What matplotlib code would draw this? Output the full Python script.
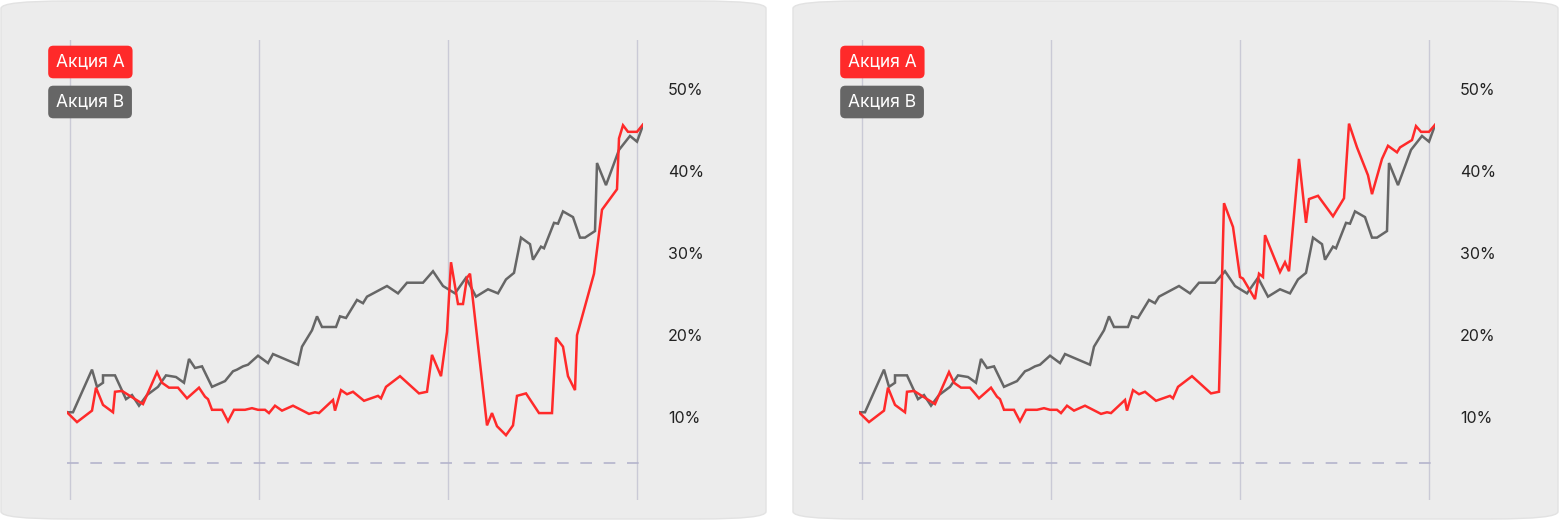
import matplotlib
matplotlib.use("Agg")
import matplotlib.pyplot as plt
from matplotlib.patches import FancyBboxPatch

plt.rcParams['font.family'] = ['Inter', 'DejaVu Sans']

grey_x = [0, 6, 25, 30, 36, 36, 48, 59, 65, 72, 80, 91, 99, 109, 117, 122, 128, 135, 145, 158, 166, 170, 176, 181, 191,
          201, 206, 231, 235, 245, 250, 255, 269, 273, 279, 290, 296, 300, 320, 331, 340, 356, 366, 376, 388, 399, 409,
          421, 431, 439, 447, 454, 463, 466, 474, 477, 487, 491, 496, 506, 513, 518, 528, 530, 539, 552, 563, 570, 576]
grey_y = [10.7, 10.7, 15.9, 13.8, 14.3, 15.2, 15.2, 12.3, 12.8, 11.5, 12.8, 13.8, 15.2, 15.0, 14.3, 17.2, 16.1, 16.3,
          13.8, 14.5, 15.7, 15.9, 16.3, 16.5, 17.6, 16.7, 17.8, 16.5, 18.7, 20.7, 22.4, 21.1, 21.1, 22.4, 22.2, 24.4,
          24.0, 24.8, 26.1, 25.2, 26.5, 26.5, 27.9, 26.1, 25.2, 27.1, 24.8, 25.7, 25.2, 26.9, 27.7, 32.0, 31.2, 29.3,
          30.9, 30.7, 33.8, 33.7, 35.2, 34.5, 32.0, 32.0, 32.8, 41.1, 38.4, 42.7, 44.4, 43.7, 45.7]

red_common_x = [0, 10, 25, 29, 36, 46, 48, 55, 76, 90, 95, 102, 111, 120, 132, 138, 141, 145, 155, 161, 167, 178, 185,
                191, 198, 202, 208, 215, 226, 242, 248, 252, 266, 268, 274, 280, 286, 297, 311, 314, 319, 333, 352, 360]
red_common_y = [10.7, 9.5, 10.9, 13.7, 11.6, 10.7, 13.2, 13.3, 11.7, 15.6, 14.3, 13.7, 13.7, 12.4, 13.7, 12.6, 12.3,
                11.0, 11.0, 9.6, 11.0, 11.0, 11.2, 11.0, 11.0, 10.6, 11.5, 10.9, 11.5, 10.5, 10.7, 10.6, 12.2, 10.9,
                13.4, 12.9, 13.2, 12.1, 12.7, 12.4, 13.8, 15.1, 13.0, 13.2]

red_tail1_x = [365, 374, 380, 384, 391, 396, 400, 403, 420, 425, 430, 439, 446, 450, 459, 472, 485, 489, 496, 501, 508,
               510, 527, 535, 550, 552, 556, 561, 570, 576]
red_tail1_y = [17.7, 15.1, 20.5, 29.0, 23.9, 23.9, 27.1, 27.6, 9.1, 10.6, 9.0, 7.9, 9.1, 12.7, 13.0, 10.6, 10.6, 19.8,
               18.7, 15.1, 13.4, 20.1, 27.6, 35.4, 37.9, 44.1, 45.7, 44.9, 44.9, 45.8]

red_tail2_x = [365, 374, 381, 384, 396, 400, 404, 406, 421, 426, 430, 440, 447, 450, 459, 474, 485, 490, 498, 509, 513,
               523, 529, 538, 541, 553, 557, 562, 570, 577]
red_tail2_y = [36.2, 33.3, 27.2, 27.0, 24.5, 27.6, 27.2, 32.3, 27.8, 29.0, 27.9, 41.6, 33.8, 36.7, 37.1, 34.6, 36.8,
               45.9, 43.0, 39.6, 37.3, 41.6, 43.2, 42.4, 43.0, 43.9, 45.6, 44.9, 44.9, 45.9]

y_ticks = [10, 20, 30, 40, 50]
y_labels = ["10%", "20%", "30%", "40%", "50%"]
v_lines = [3, 192, 381, 570]
baseline = 4.5
legend_labels = ["Акция A", "Акция B"]

RED = "#ff2a2a"
GREY = "#666666"

W, H = 1560, 520
fig = plt.figure(figsize=(15.6, 5.2), dpi=100)
fig.patch.set_facecolor("white")

tails = [(red_tail1_x, red_tail1_y), (red_tail2_x, red_tail2_y)]
for i, off in enumerate([0, 792]):
    bg = FancyBboxPatch(((off + 1) / W, 1 / H), 765 / W, 518 / H,
                        boxstyle="round,pad=0,rounding_size=%f" % (22 / H), transform=fig.transFigure,
                        facecolor="#ececec", edgecolor="#e2e2e2", linewidth=1, mutation_aspect=1.0 / (W / H) * 1.0,
                        zorder=-5)
    bg.set_mutation_aspect(H / W)
    fig.patches.append(bg)
    ax = fig.add_axes([(off + 67) / W, 20 / H, 576 / W, 460 / H])
    ax.set_zorder(2)
    ax.set_facecolor("none")
    ax.set_xlim(0, 576)
    ax.set_ylim(0, 56.1)
    for s in ax.spines.values():
        s.set_visible(False)
    ax.set_xticks([])
    ax.set_yticks([])
    for v in v_lines:
        ax.axvline(v, color="#cacad6", linewidth=1, zorder=1)
    ax.axhline(baseline, xmin=0, xmax=1.0, color="#b4b4cc", linewidth=1.2, dashes=(7, 7), zorder=1)
    tx, ty = tails[i]
    ax.plot(grey_x, grey_y, color=GREY, linewidth=1.8, zorder=3, solid_joinstyle="miter")
    ax.plot(red_common_x + tx, red_common_y + ty, color=RED, linewidth=1.8, zorder=4, solid_joinstyle="miter")
    for t, l in zip(y_ticks, y_labels):
        ax.text(1.043, t, l, transform=ax.get_yaxis_transform(), fontsize=11.5, color="#222222",
                va="center", ha="left", clip_on=False)
    for j, (lab, col) in enumerate(zip(legend_labels, [RED, GREY])):
        fig.text((off + 56) / W, 1 - (62 + 40 * j) / H, lab, fontsize=12.5, color="white", va="center", ha="left",
                 zorder=10,
                 bbox=dict(boxstyle="round,pad=0.45,rounding_size=0.3", facecolor=col, edgecolor="none"))

fig.savefig("out.png", dpi=100, facecolor="white")
